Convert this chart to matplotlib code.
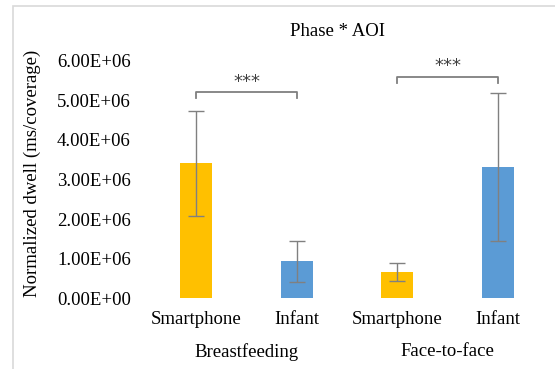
import matplotlib
matplotlib.use("Agg")
import matplotlib.pyplot as plt
import matplotlib.transforms as mtransforms
from matplotlib.patches import Rectangle

phases = ["Breastfeeding", "Face-to-face"]
aoi_labels = ["Smartphone", "Infant", "Smartphone", "Infant"]
means = [3.41e6, 0.93e6, 0.66e6, 3.32e6]
errors = [1.32e6, 0.52e6, 0.23e6, 1.87e6]
bar_colors = ["#FFC000", "#5B9BD5", "#FFC000", "#5B9BD5"]
yticks = [0, 1e6, 2e6, 3e6, 4e6, 5e6, 6e6]
ytick_labels = ["0.00E+00", "1.00E+06", "2.00E+06", "3.00E+06", "4.00E+06", "5.00E+06", "6.00E+06"]
# significance brackets: (left bar, right bar, bracket height, tick end height, star height)
brackets = [(0, 1, 5.21e6, 5.07e6, 5.46e6), (2, 3, 5.58e6, 5.43e6, 5.87e6)]
sig_label = "***"

serif = ["Liberation Serif", "DejaVu Serif"]
FS = 13.5
W, H = 555, 369
fig = plt.figure(figsize=(W / 100, H / 100), dpi=100)

# chart border (light gray, cropped on right/bottom)
fig.patches.append(Rectangle((12.5 / W, -0.1), 1.2, 1.1 - 6.5 / H, transform=fig.transFigure,
                             fill=False, edgecolor="#D9D9D9", linewidth=1.2))

ax = fig.add_axes([146 / W, 1 - 298.3 / H, (548 - 146) / W, (298.3 - 60.7) / H])
x = list(range(len(means)))
ax.bar(x, means, width=0.315, color=bar_colors, zorder=2)
ax.errorbar(x, means, yerr=errors, fmt="none", ecolor="#808080", elinewidth=1.0,
            capsize=5.5, capthick=1.0, zorder=3)

ax.set_xlim(-0.5, 3.5)
ax.set_ylim(0, 6e6)
ax.set_yticks(yticks)
ax.set_yticklabels(ytick_labels, fontfamily=serif, fontsize=FS)
ax.set_xticks(x)
ax.set_xticklabels(aoi_labels, fontfamily=serif, fontsize=FS)
ax.tick_params(axis="both", length=0)
ax.tick_params(axis="y", pad=11)
ax.tick_params(axis="x", pad=9.5)
for s in ax.spines.values():
    s.set_visible(False)

for l, r, yb, ye, ys in brackets:
    ax.plot([l, l, r, r], [ye, yb, yb, ye], color="#7F7F7F", linewidth=1.3, zorder=3)
    ax.text((l + r) / 2, ys, sig_label, ha="center", va="center", fontsize=13,
            color="#404040", family="DejaVu Sans")

trans = mtransforms.blended_transform_factory(ax.transData, fig.transFigure)
for i, p in enumerate(phases):
    ax.text(2 * i + 0.5, 1 - 352 / H, p, transform=trans, ha="center", va="center",
            fontfamily=serif, fontsize=FS)

fig.text(338 / W, 1 - 31.5 / H, "Phase * AOI", ha="center", va="center",
         fontfamily=serif, fontsize=FS)
fig.text(32 / W, 1 - 173 / H, "Normalized dwell (ms/coverage)", rotation=90,
         ha="center", va="center", fontfamily=serif, fontsize=FS)

fig.savefig("out.png", dpi=100)
